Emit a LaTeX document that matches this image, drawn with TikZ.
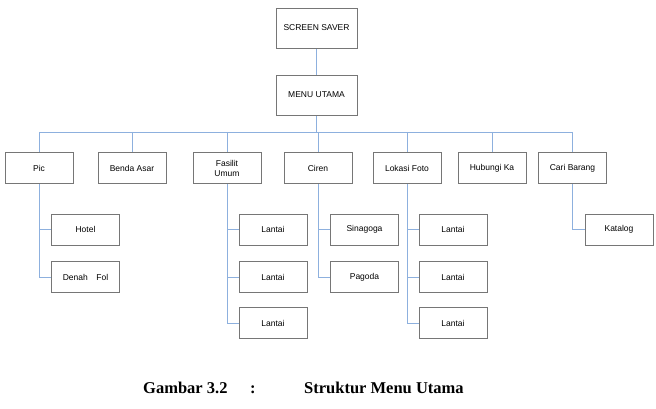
\documentclass[tikz,border=0pt]{standalone}
\usepackage{fontspec}
\setmainfont{Liberation Serif}
\setsansfont{Liberation Sans}
\usetikzlibrary{positioning,backgrounds}
\pgfdeclarelayer{edgelayer}
\pgfdeclarelayer{nodelayer}
\pgfsetlayers{background,edgelayer,nodelayer,main}
\definecolor{linkblue}{RGB}{141,176,222}
\definecolor{boxgray}{RGB}{118,118,118}
\tikzstyle{none}=[inner sep=0mm]
\tikzstyle{menubox}=[rectangle,draw=boxgray,line width=0.9pt,fill=white,minimum width=68pt,minimum height=31pt,inner sep=1pt,align=center,font=\sffamily\fontsize{8.5}{10}\selectfont]
\tikzstyle{topbox}=[menubox,minimum width=81pt,minimum height=40pt]
\tikzstyle{link}=[draw=linkblue,line width=0.9pt]
\tikzstyle{caption}=[inner sep=0pt,anchor=base west,font=\bfseries\fontsize{16.5}{19}\selectfont]

\begin{document}
\begin{tikzpicture}[x=1pt,y=-1pt]
	\useasboundingbox (0,0) rectangle (656,409);
	\begin{pgfonlayer}{nodelayer}
		\node [style=topbox] (screen) at (316.5, 28) {SCREEN SAVER};
		\node [style=topbox] (menu) at (316.5, 95) {MENU UTAMA};
		\coordinate (bus) at (0, 132);
		% level one
		\node [style=menubox] (pic) at (39, 168) {Pic};
		\node [style=menubox] (benda) at (132, 168) {Benda Asar};
		\node [style=menubox] (fasilit) at (227, 168) {Fasilit\\Umum};
		\node [style=menubox] (ciren) at (318, 168) {Ciren};
		\node [style=menubox] (lokasi) at (407, 168) {Lokasi Foto};
		\node [style=menubox] (hubungi) at (492, 168) {Hubungi Ka};
		\node [style=menubox] (cari) at (572.5, 168) {Cari Barang};
		% level two
		\node [style=menubox] (hotel) at (85.5, 229.5) {Hotel};
		\node [style=menubox] (denah) at (85.5, 277) {Denah\quad Fol};
		\node [style=menubox] (lantaiA) at (273, 229.5) {Lantai};
		\node [style=menubox] (lantaiB) at (273, 277) {Lantai};
		\node [style=menubox] (lantaiC) at (273, 323) {Lantai};
		\node [style=menubox] (sinagoga) at (364.5, 229.5) {Sinagoga};
		\node [style=menubox] (pagoda) at (364.5, 277) {Pagoda};
		\node [style=menubox] (lantaiD) at (453, 229.5) {Lantai};
		\node [style=menubox] (lantaiE) at (453, 277) {Lantai};
		\node [style=menubox] (lantaiF) at (453, 323) {Lantai};
		\node [style=menubox] (katalog) at (619, 229.5) {Katalog};
		% caption
		\node [style=caption] (gambar) at (143, 393) {Gambar 3.2};
		\node [style=caption] (colon) at (250, 393) {:};
		\node [style=caption] (judul) at (304, 393) {Struktur Menu Utama};
	\end{pgfonlayer}
	\begin{pgfonlayer}{edgelayer}
		\draw [style=link] (screen) to (menu);
		\draw [style=link] (menu.south) to (menu.south |- bus);
		\draw [style=link] (pic.north |- bus) to (cari.north |- bus);
		\foreach \n in {pic,benda,fasilit,ciren,lokasi,hubungi,cari}
			\draw [style=link] (\n.north |- bus) to (\n.north);
		\draw [style=link] (pic.south) |- (hotel.west);
		\draw [style=link] (pic.south) |- (denah.west);
		\draw [style=link] (fasilit.south) |- (lantaiA.west);
		\draw [style=link] (fasilit.south) |- (lantaiB.west);
		\draw [style=link] (fasilit.south) |- (lantaiC.west);
		\draw [style=link] (ciren.south) |- (sinagoga.west);
		\draw [style=link] (ciren.south) |- (pagoda.west);
		\draw [style=link] (lokasi.south) |- (lantaiD.west);
		\draw [style=link] (lokasi.south) |- (lantaiE.west);
		\draw [style=link] (lokasi.south) |- (lantaiF.west);
		\draw [style=link] (cari.south) |- (katalog.west);
	\end{pgfonlayer}
\end{tikzpicture}
\end{document}
